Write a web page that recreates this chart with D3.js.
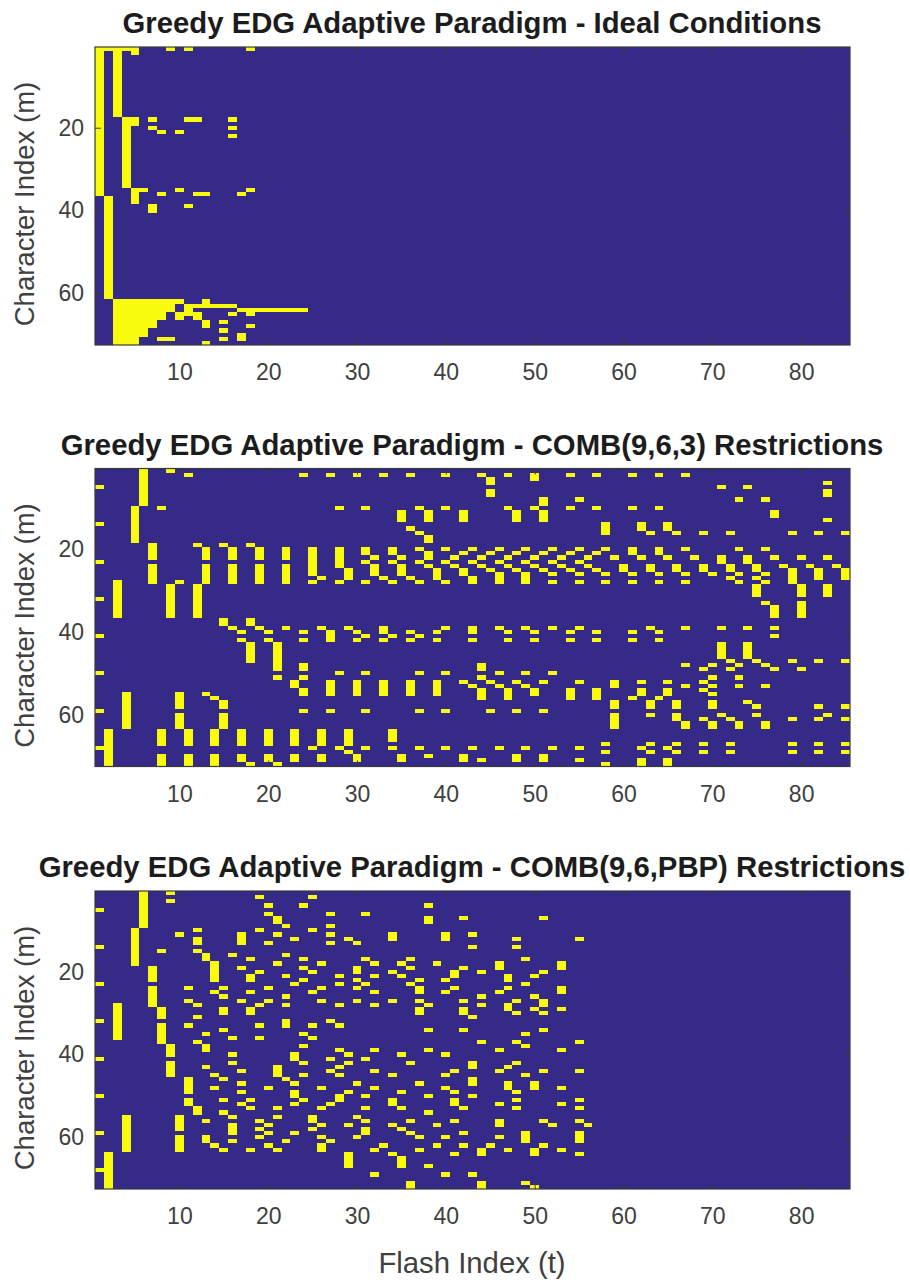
<!DOCTYPE html>
<html lang="en">
<head>
<meta charset="UTF-8">
<title>Greedy EDG Adaptive Paradigm</title>
<script src="https://d3js.org/d3.v7.min.js"></script>
<style>
    body { margin: 0; background: #fff; }
    svg text { font-family: "Liberation Sans", Arial, sans-serif; }
    .axis path { stroke: #3a3a3a; }
    .axis line { stroke: #3a3a3a; }
    .axis text { font-size: 23px; fill: #404040; }
    .frame { fill: none; stroke: #3a3a3a; stroke-width: 1.2; }
</style>
</head>
<body>
<div id="chart"></div>
<script>
// each column: [flash index t, then characters m lit at t; [a,b] is a run a..b]
const idealColumns = [
    [1,[1,36]],[2,1,[37,61]],[3,[1,17],[62,72]],[4,1,[18,34],[62,72]],
    [5,[1,2],[18,19],[35,38],[62,72]],[6,35,[62,70]],[7,18,20,[39,40],[62,68]],
    [8,21,36,[62,66],71],[9,1,[62,64],71],[10,21,35,62,[65,66]],[11,1,18,39,[63,65]],
    [12,18,36,63,[65,66]],[13,36,[62,63],[67,68],72],[14,63],[15,63,67,69,71],
    [16,18,20,22,63,65],[17,36,64,[70,71]],[18,1,35,[64,65],68],
    [19,64],[20,64],[21,64],[22,64],[23,64],[24,64]
];

const comb963Columns = [
    [1,5,14,23,32,41,50,59,68],[2,[64,72]],[3,[28,36]],[4,[55,63]],[5,[10,18]],[6,[1,9]],
    [7,[19,22],[24,28]],[8,10,[64,67],[70,72]],[9,1,[29,36]],[10,28,[55,58],[60,63]],
    [11,2,[64,67],[70,72]],[12,19,[29,36]],[13,[20,22],[24,28],55],[14,56,[64,67],[70,72]],
    [15,19,[37,38],[57,58],[60,63]],[16,[20,22],[24,28],39],[17,40,42,[64,67],[70,71]],
    [18,19,[37,38],[43,47],72],[19,[20,22],[24,28],39],[20,40,42,[64,67],[70,71]],
    [21,[43,49],51,72],[22,[20,22],[24,28],39],[23,[52,53],[64,67],[70,71]],
    [24,2,40,42,[48,49],51,[54,55],59],[25,[20,26],28,68],[26,27,39,[64,67],[70,71]],
    [27,2,[40,42],[52,55],59],[28,10,[20,24],28,50,68],[29,[25,27],39,[64,67],69],
    [30,2,40,42,[52,55],[70,71]],[31,10,[20,21],23,28,41,50,59,68],[32,22,[24,26]],
    [33,2,27,[39,40],42,[52,55]],[34,[20,21],23,28,41,[64,66],68],[35,[11,13],22,[24,26],[70,71]],
    [36,2,15,27,40,42,[52,55]],[37,10,16,20,23,28,41,50,59,68],[38,[11,13],[17,18],[21,22],24,70],
    [39,[25,27],40,42,[52,55]],[40,2,10,20,23,28,39,50,59,68],[41,22,24],
    [42,[11,13],21,[25,26],52,[70,71]],[43,20,23,[27,28],[39,40],42,53,68],
    [44,2,22,24,[48,49],51,[54,56],71],[45,[3,4],[6,7],21,25,52,59],
    [46,20,23,[26,28],39,50,53,68],[47,2,10,22,24,40,42,[54,56]],[48,[11,13],21,25,52,59,[70,71]],
    [49,20,23,[26,28],39,50,53,68],[50,[2,3],10,22,24,40,42,[54,55]],
    [51,[8,9],[11,13],21,25,52,59,[70,71]],[52,20,23,26,28,39,50,68],[53,22,24],
    [54,2,10,21,25,40,42,[54,56]],[55,8,20,23,26,28,39,52,68,71],[56,22,24],
    [57,2,10,21,25,40,42,[54,56]],[58,[14,16],20,26,28,67,69,72],[59,22,[52,53],[57,58],[60,63]],
    [60,[24,25]],[61,2,10,[20,21],26,28,40,42,56],[62,[14,15],22,52,[54,55],68,[71,72]],
    [63,16,[24,25],39,[57,58],60,67,69],[64,2,10,[20,21],26,28,40,42,56],
    [65,[14,15],22,52,[54,55],68,[71,72]],[66,16,[24,25],[57,58],[60,61],67,69],
    [67,2,20,26,28,39,48,53,[62,63]],[68,22],[69,16,[24,25],49,52,54,61,67,69],
    [70,26,48,51,53,55,[57,58],[62,63]],[71,5,[22,23],39,[43,46],60],
    [72,16,[24,25],27,47,49,61,67,69],[73,8,20,26,28,48,51,53,[62,63]],
    [74,5,[22,23],39,[43,46],57],[75,[24,25],27,[29,31],47,58,60],
    [76,8,20,26,28,33,48,53,[62,63]],[77,[11,12],22,[34,36],39,41,49],[78,24],
    [79,16,[25,28],47,61,67,69],[80,22,[29,31],[33,36],49],[81,24],
    [82,16,[25,27],47,58,61,67,69],[83,4,[6,7],13,22,[29,31],60],[84,24],
    [85,16,[25,27],47,58,61,67,69]
];

const combPbpColumns = [
    [1,5,14,23,32,41,50,59,68],[2,[64,72]],[3,[28,36]],[4,[55,63]],[5,[10,18]],[6,[1,9]],
    [7,[19,22],[24,28]],[8,15,[29,31],[33,37]],[9,1,3,[38,40],[42,45]],[10,11,[55,58],[60,63]],
    [11,24,27,33,[46,49],[51,52]],[12,10,[12,13],15,28,31,37,[53,54]],
    [13,[16,17],35,[38,39],43,56,[60,61]],[14,[18,22],25,45,48,62],
    [15,24,26,[29,30],34,46,51,54,63],[16,16,36,40,42,55,[57,59],61],
    [17,[11,13],19,27,44,47,49,52],[18,17,[21,22],25,[29,30],51,53,63],
    [19,2,10,20,28,33,36,56,58,60],[20,4,6,13,24,27,48,57,59,62],
    [21,[7,8],11,18,[43,45],53,55,63],[22,9,16,21,26,28,[32,33],46,61],
    [23,12,23,[40,41],47,[49,50],52,59],[24,4,17,19,22,35,38,42,45,51],
    [25,2,10,20,25,33,36,[55,56],58],[26,18,24,27,48,53,57,60,[62,63]],
    [27,6,9,11,13,32,41,44,52,61],[28,21,23,28,33,39,43,45,[50,51]],
    [29,12,40,42,49,57,[64,67]],[30,13,[19,20],22,24,27,47,55,60],
    [31,6,17,23,41,50,53,56,[58,59]],[32,18,21,25,28,39,44,48,63,69],[33,62],
    [34,[11,12],20,27,45,[51,52],57,64],[35,18,21,40,49,53,58,[65,67]],
    [36,17,19,23,42,56,59,[71,72]],[37,22,[24,25],27,[29,30],47,60,63],
    [38,4,[7,8],28,34,39,50,54,67],[39,18,57,62],[40,[11,12],22,25,40,45,48,60,69],
    [41,[20,21],24,44,49,[51,52],56,64],[42,7,19,27,[29,30],34,53,59,62],
    [43,11,14,31,[42,43],[46,47],50,69],[44,20,26,28,37,[63,64],[71,72]],[45,62],
    [46,[18,19],25,39,44,52,[56,57],60],[47,[21,22],24,[28,29],43,[47,48],63],
    [48,12,14,27,30,37,42,49,51,53],[49,17,23,35,38,45,[59,61],71],
    [50,21,26,29,[47,48],[63,64],72],[51,7,20,[27,28],30,34,44,56,62],[52,57],
    [53,[18,19],[24,25],29,39,48,52,63],[55,12,37,44,51,53,56,[59,61],64],[56,57]
];

const panelTitles = [
    "Greedy EDG Adaptive Paradigm - Ideal Conditions",
    "Greedy EDG Adaptive Paradigm - COMB(9,6,3) Restrictions",
    "Greedy EDG Adaptive Paradigm - COMB(9,6,PBP) Restrictions"
];
const panelColumns = [idealColumns, comb963Columns, combPbpColumns];
const panelTops = [47, 468.5, 891];
const xTicks = [10, 20, 30, 40, 50, 60, 70, 80];
const yTicks = [20, 40, 60];

const width = 910, height = 1280;
const left = 95, right = 850, plotH = 298;
const background = "#352a87", lit = "#f9fb0e";

const svg = d3.select("#chart").append("svg")
    .attr("width", width)
    .attr("height", height);

// the reference is a scaled bitmap, so its cell edges are slightly soft
svg.append("filter").attr("id", "soft")
    .append("feGaussianBlur").attr("stdDeviation", 0.5);

const x = d3.scaleLinear().domain([0.5, 85.5]).range([left, right]);
const y = d3.scaleLinear().domain([0.5, 72.5]).range([0, plotH]);

// turn one column list into single runs
function toRuns(columns) {
    const runs = [];
    columns.forEach(([t, ...items]) => {
        items.forEach(item => {
            const [a, b] = Array.isArray(item) ? item : [item, item];
            runs.push({ t, a, b });
        });
    });
    return runs;
}

panelTops.forEach((top, i) => {
    const g = svg.append("g").attr("transform", `translate(0, ${top})`);

    g.append("rect")
        .attr("x", left)
        .attr("y", 0)
        .attr("width", right - left)
        .attr("height", plotH)
        .attr("fill", background);

    g.append("g")
        .attr("filter", "url(#soft)")
        .selectAll("rect")
        .data(toRuns(panelColumns[i]))
        .enter()
        .append("rect")
        .attr("x", d => x(d.t - 0.5))
        .attr("y", d => y(d.a - 0.5))
        .attr("width", d => x(d.t + 0.5) - x(d.t - 0.5))
        .attr("height", d => y(d.b + 0.5) - y(d.a - 0.5))
        .attr("shape-rendering", "crispEdges")
        .attr("fill", lit);

    g.append("g")
        .attr("class", "axis")
        .attr("transform", `translate(0, ${plotH})`)
        .call(d3.axisBottom(x).tickValues(xTicks).tickSize(-6).tickPadding(19).tickFormat(d3.format("d")))
        .call(s => s.select(".domain").remove());

    g.append("g")
        .attr("class", "axis")
        .call(d3.axisTop(x).tickValues(xTicks).tickSize(-6).tickFormat(""))
        .call(s => s.select(".domain").remove());

    g.append("g")
        .attr("class", "axis")
        .attr("transform", `translate(${left}, 0)`)
        .call(d3.axisLeft(y).tickValues(yTicks).tickSize(-6).tickPadding(11).tickFormat(d3.format("d")))
        .call(s => s.select(".domain").remove());

    g.append("g")
        .attr("class", "axis")
        .attr("transform", `translate(${right}, 0)`)
        .call(d3.axisRight(y).tickValues(yTicks).tickSize(-6).tickFormat(""))
        .call(s => s.select(".domain").remove());

    g.append("rect")
        .attr("class", "frame")
        .attr("x", left)
        .attr("y", 0)
        .attr("width", right - left)
        .attr("height", plotH);

    g.append("text")
        .attr("x", 472)
        .attr("y", -14)
        .attr("text-anchor", "middle")
        .attr("font-size", 29.3)
        .attr("font-weight", "bold")
        .attr("fill", "#1c1c1c")
        .text(panelTitles[i]);

    g.append("text")
        .attr("transform", `translate(34, ${plotH / 2 + 8}) rotate(-90)`)
        .attr("text-anchor", "middle")
        .attr("font-size", 27.5)
        .attr("fill", "#404040")
        .text("Character Index (m)");
});

svg.append("text")
    .attr("x", 472)
    .attr("y", 1273)
    .attr("text-anchor", "middle")
    .attr("font-size", 29.3)
    .attr("fill", "#404040")
    .text("Flash Index (t)");
</script>
</body>
</html>
